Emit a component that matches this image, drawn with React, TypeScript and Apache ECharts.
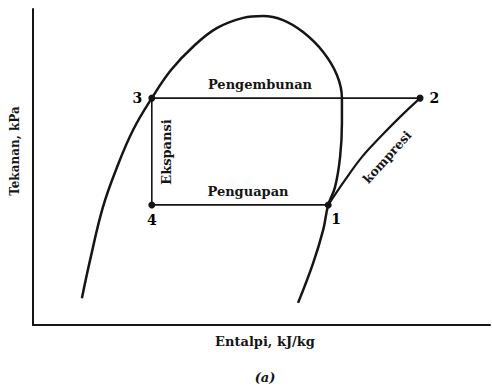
import React, { useEffect, useRef } from "react";
import * as echarts from "echarts";

// Saturation dome (enthalpy, pressure) in arbitrary units
const domeH = [10.7, 12.5, 15.3, 18.4, 21.9, 26.0, 30.2, 35.2, 40.3, 46.0, 50.3, 54.7, 59.1, 63.5, 66.5, 67.6, 67.6, 67.2, 66.1, 64.6, 63.5, 61.3, 58.0];
const domeP = [8.5, 20.6, 37.3, 50.0, 61.7, 71.8, 80.7, 88.3, 94.0, 97.2, 97.8, 96.5, 92.7, 86.4, 79.1, 71.8, 63.9, 53.2, 43.7, 38.0, 30.1, 19.6, 7.0];

// Compression 1 -> 2
const compH = [64.6, 68.3, 72.0, 76.4, 80.5, 84.7];
const compP = [38.0, 45.9, 53.2, 60.1, 66.1, 71.8];

// Cycle states
const stateNames = ["1", "2", "3", "4"];
const stateH = [64.6, 84.7, 26.0, 26.0];
const stateP = [38.0, 71.8, 71.8, 38.0];

// Cycle path order: 2 -> 3 -> 4 -> 1
const cycleOrder = [1, 2, 3, 0];

const FONT = "DejaVu Serif";
const INK = "#151515";

export default function App() {
  const ref = useRef<HTMLDivElement>(null);
  useEffect(() => {
    if (!ref.current) return;
    const chart = echarts.init(ref.current, null, { renderer: "svg" });
    const labelPos: any = {
      "1": { position: "bottom", distance: 4, offset: [8, 0] },
      "2": { position: "right", distance: 6 },
      "3": { position: "left", distance: 6 },
      "4": { position: "bottom", distance: 5 },
    };
    chart.setOption({
      animation: false,
      backgroundColor: "#fff",
      grid: { left: 33, right: 2, top: 9, bottom: 62 },
      xAxis: {
        type: "value",
        min: 0,
        max: 100,
        axisLine: { show: true, lineStyle: { color: INK, width: 2 } },
        axisTick: { show: false },
        axisLabel: { show: false },
        splitLine: { show: false },
      },
      yAxis: {
        type: "value",
        min: 0,
        max: 100,
        axisLine: { show: true, lineStyle: { color: INK, width: 2 } },
        axisTick: { show: false },
        axisLabel: { show: false },
        splitLine: { show: false },
      },
      series: [
        {
          type: "line",
          data: domeH.map((h, i) => [h, domeP[i]]),
          smooth: 0.4,
          showSymbol: false,
          lineStyle: { color: INK, width: 2.5 },
          silent: true,
        },
        {
          type: "line",
          data: compH.map((h, i) => [h, compP[i]]),
          smooth: 0.4,
          showSymbol: false,
          lineStyle: { color: INK, width: 2.2 },
          silent: true,
        },
        {
          type: "line",
          data: cycleOrder.map((i) => [stateH[i], stateP[i]]),
          showSymbol: false,
          lineStyle: { color: INK, width: 1.6 },
          silent: true,
        },
        {
          type: "scatter",
          symbolSize: 7,
          itemStyle: { color: INK, opacity: 1 },
          data: stateNames.map((n, i) => ({
            value: [stateH[i], stateP[i]],
            name: n,
            label: {
              show: true,
              formatter: n,
              color: "#000",
              textBorderWidth: 0,
              fontFamily: FONT,
              fontWeight: "bold",
              fontSize: 14,
              ...labelPos[n],
            },
          })),
          silent: true,
        },
      ],
      graphic: [
        {
          type: "text",
          x: 260,
          y: 84,
          style: { text: "Pengembunan", font: `bold 13px "${FONT}"`, fill: INK, align: "center", verticalAlign: "middle" },
        },
        {
          type: "text",
          x: 248,
          y: 191,
          style: { text: "Penguapan", font: `bold 13px "${FONT}"`, fill: INK, align: "center", verticalAlign: "middle" },
        },
        {
          type: "text",
          x: 166,
          y: 152,
          rotation: Math.PI / 2,
          style: { text: "Ekspansi", font: `bold 13px "${FONT}"`, fill: INK, align: "center", verticalAlign: "middle" },
        },
        {
          type: "text",
          x: 387,
          y: 157,
          rotation: (48 * Math.PI) / 180,
          style: { text: "kompresi", font: `bold 12.5px "${FONT}"`, fill: INK, align: "center", verticalAlign: "middle" },
        },
        {
          type: "text",
          x: 15,
          y: 151,
          rotation: Math.PI / 2,
          style: { text: "Tekanan, kPa", font: `bold 12px "${FONT}"`, fill: INK, align: "center", verticalAlign: "middle" },
        },
        {
          type: "text",
          x: 265,
          y: 341,
          style: { text: "Entalpi, kJ/kg", font: `bold 13px "${FONT}"`, fill: INK, align: "center", verticalAlign: "middle" },
        },
        {
          type: "text",
          x: 265,
          y: 377,
          style: { text: "(a)", font: `italic bold 13px "${FONT}"`, fill: INK, align: "center", verticalAlign: "middle" },
        },
      ],
    });
    return () => chart.dispose();
  }, []);
  return <div ref={ref} style={{ width: 492, height: 387, position: "fixed", left: 0, top: 0 }} />;
}
